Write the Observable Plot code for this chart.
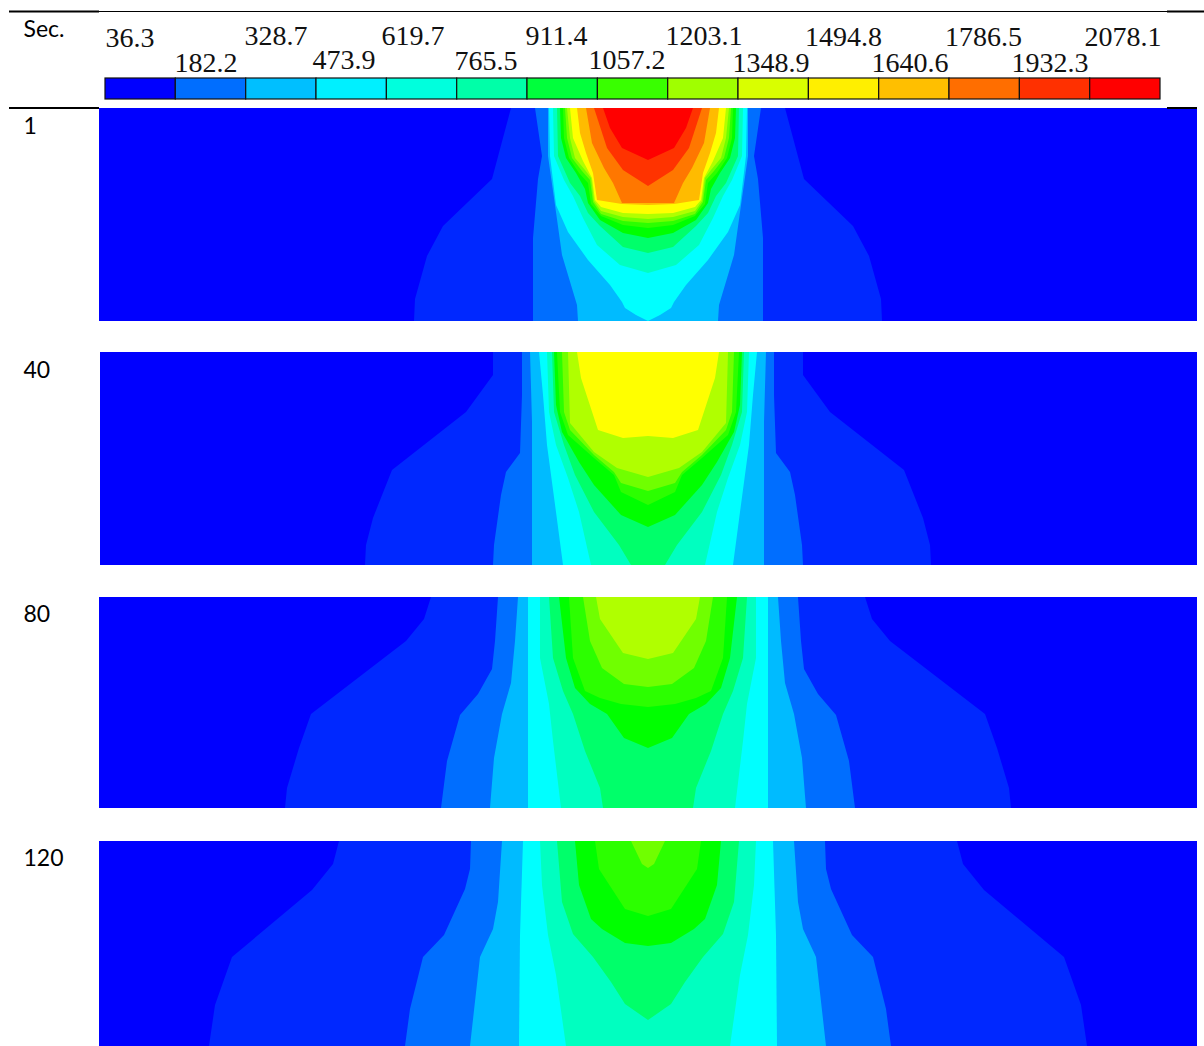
<!DOCTYPE html>
<html>
<head>
<meta charset="utf-8">
<script src="https://cdn.jsdelivr.net/npm/d3@7"></script>
<script src="https://cdn.jsdelivr.net/npm/@observablehq/plot@0.6"></script>
<style>
html,body{margin:0;padding:0;background:#fff;overflow:hidden}
svg{display:block}
</style>
</head>
<body>
<div id="chart"></div>
<script>
// Legend
const legendLabels = ["36.3","182.2","328.7","473.9","619.7","765.5","911.4","1057.2","1203.1","1348.9","1494.8","1640.6","1786.5","1932.3","2078.1"];
const legendLabelX = [105,174,244,312,381,454,525,588,665,732,804.5,871,944.5,1011,1084];
const legendLabelY = [46.5,71,44,68.5,44.5,69.5,44,68.5,44.5,71,45.5,71.5,45.5,71.5,45.5];
const legendColors = ["#0000ff","#006eff","#00bfff","#00f0ff","#00ffdd","#00ffa8","#00ff3c","#39ff00","#a0ff00","#d9ff00","#ffef00","#ffbf00","#ff6e00","#ff3000","#ff0000"];
const legendEdges = [105,175.3,245.7,316,386.4,456.7,527,597.4,667.7,738,808.4,878.7,949,1019.4,1089.7,1160];

// Contour fill colours, from the outermost band inward
const bandColors = ["#0028ff","#006eff","#00bbff","#00ffff","#00ffc0","#00ff6a","#00ff00","#2cff00","#70ff00","#b0ff00","#ffff00","#ffbb00","#ff7700","#ff3300","#ff0000"];

// Panels
const panelTimes = ["1","40","80","120"];
const panelLeft = [99,100,99,99];
const panelRight = [1197,1197,1197,1197];
const panelTop = [108,352,597,841];
const panelBottom = [321,565,808,1046];
const panelLabelY = [133.5,377.5,621.5,865.5];
const centerX = 648;

// Each contour: [half-width from centre line, depth below panel top]
const contours1 = [
  [[137,0],[156,71],[205,118],[221,148],[233,191],[234,213]],
  [[113,0],[106,48],[110,71],[115,130],[115,213]],
  [[100,0],[100,48],[93,97],[86,147],[71,197],[70,213]],
  [[99,0],[98,48],[92,97],[80,124],[60,152],[38,177],[26,194],[23,200],[12,207],[0,213]],
  [[95,0],[94,48],[84,72],[75,88],[65,110],[51,137],[28,157],[0,165]],
  [[91,0],[90,48],[78,75],[68,88],[60,105],[48,118],[25,139],[0,145]],
  [[88,0],[87,30],[82,50],[72,65],[63,81],[60,95],[48,112],[25,125],[0,130]],
  [[85,0],[84,30],[79,50],[69,65],[60,75],[57,96],[47,108],[25,117],[0,120]],
  [[83,0],[81,30],[76,50],[66,63],[58,72],[55,94],[47,106],[25,113],[0,115]],
  [[81,0],[78,30],[73,50],[63,62],[57,70],[54,93],[47,103],[25,109],[0,111]],
  [[78,0],[75,30],[65,53],[56,70],[53,92],[47,99],[25,105],[0,106]],
  [[71,0],[68,25],[62,45],[55,65],[51,92],[26,96],[0,97]],
  [[62,0],[56,35],[44,60],[35,75],[26,95],[0,95]],
  [[54,0],[41,40],[25,62],[0,78]],
  [[45,0],[38,20],[26,40],[0,52]]
];
const contours40 = [
  [[155,0],[155,23],[182,60],[256,118],[275,166],[282,193],[283,213]],
  [[126,0],[126,43],[128,101],[142,120],[147,143],[154,193],[155,213]],
  [[118,0],[116,70],[116,213]],
  [[109,0],[105,43],[101,93],[92,160],[85,213]],
  [[101,0],[99,60],[92,93],[80,126],[69,160],[57,213]],
  [[96,0],[94,60],[84,93],[73,123],[54,160],[29,193],[17,213],[0,213]],
  [[94,0],[92,53],[86,80],[69,110],[54,133],[27,163],[0,175]],
  [[91,0],[88,60],[80,83],[54,106],[34,123],[27,140],[0,153]],
  [[86,0],[84,60],[78,78],[54,103],[34,120],[27,131],[0,139]],
  [[80,0],[78,71],[54,100],[31,116],[0,125]],
  [[71,0],[67,26],[50,78],[25,86],[0,84]]
];
const contours80 = [
  [[217,0],[224,22],[242,44],[337,117],[349,151],[361,191],[363,211]],
  [[150,0],[153,44],[156,72],[170,97],[188,118],[201,164],[207,211]],
  [[130,0],[133,44],[137,86],[146,117],[154,161],[158,211]],
  [[120,0],[120,211]],
  [[108,0],[108,61],[99,107],[95,144],[87,211]],
  [[99,0],[95,61],[85,94],[75,117],[63,154],[48,191],[45,211]],
  [[89,0],[82,61],[73,91],[58,107],[41,117],[24,141],[0,151]],
  [[79,0],[75,61],[63,94],[48,101],[27,107],[0,110]],
  [[65,0],[58,44],[46,71],[24,87],[0,90]],
  [[52,0],[48,22],[25,56],[0,62]]
];
const contours120 = [
  [[309,0],[315,23],[336,49],[416,116],[433,164],[439,205]],
  [[177,0],[178,28],[183,48],[204,94],[225,116],[238,168],[243,205]],
  [[146,0],[150,61],[155,88],[168,116],[178,205]],
  [[125,0],[128,94],[129,205]],
  [[108,0],[106,44],[100,94],[92,134],[82,205]],
  [[91,0],[86,61],[75,93],[55,116],[37,141],[23,163],[0,179]],
  [[73,0],[69,44],[57,78],[46,88],[23,102],[0,105]],
  [[53,0],[49,28],[23,68],[0,75]],
  [[17,0],[6,23],[0,27]]
];

const allContours = [contours1, contours40, contours80, contours120];
const bandRows = allContours.flatMap((contours, p) =>
  contours.flatMap((contour, b) =>
    contour.map(([half, depth]) => ({
      id: p * 100 + b,
      xl: centerX - half,
      xr: centerX + half,
      y: panelTop[p] + depth,
      color: bandColors[b]
    }))
  )
);

const panels = panelTimes.map((t, i) => ({
  t, x1: panelLeft[i], x2: panelRight[i], y1: panelTop[i], y2: panelBottom[i], ly: panelLabelY[i]
}));
const legendBoxes = legendColors.map((c, i) => ({ c, x1: legendEdges[i], x2: legendEdges[i + 1] }));
const legendText = legendLabels.map((s, i) => ({ s, x: legendLabelX[i], y: legendLabelY[i] }));

const tableRules = [
  { x1: 9, x2: 99, y: 11, w: 2 },
  { x1: 99, x2: 1167, y: 11, w: 1 },
  { x1: 1167, x2: 1204, y: 11, w: 2 },
  { x1: 9, x2: 99, y: 107.5, w: 2 },
  { x1: 1167, x2: 1197, y: 107.5, w: 2 }
];

const chart = Plot.plot({
  width: 1204,
  height: 1046,
  margin: 0,
  style: { background: "#fff" },
  x: { domain: [0, 1204], range: [0, 1204], axis: null },
  y: { domain: [0, 1046], range: [0, 1046], axis: null },
  color: { type: "identity" },
  marks: [
    Plot.rect(panels, { x1: "x1", x2: "x2", y1: "y1", y2: "y2", fill: "#0000ff" }),
    Plot.area(bandRows, { x1: "xl", x2: "xr", y1: "y", y2: "y", z: "id", fill: "color" }),
    Plot.ruleY(tableRules, { x1: "x1", x2: "x2", y: "y", stroke: "#000", strokeWidth: "w" }),
    Plot.rect(legendBoxes, { x1: "x1", x2: "x2", y1: () => 78, y2: () => 99, fill: "c", stroke: "#111", strokeWidth: 1.2 }),
    Plot.text(legendText, {
      x: "x", y: "y", text: "s", textAnchor: "start", lineAnchor: "bottom",
      fontFamily: "Liberation Serif", fontSize: 28, fill: "#111"
    }),
    Plot.text(panels, {
      x: () => 23, y: "ly", text: "t", textAnchor: "start", lineAnchor: "bottom",
      fontFamily: "Lato", fontSize: 23, fill: "#000"
    }),
    Plot.text(["Sec."], {
      x: () => 23, y: () => 36.5, text: d => d, textAnchor: "start", lineAnchor: "bottom",
      fontFamily: "Lato", fontSize: 23, fill: "#000"
    })
  ]
});
document.getElementById("chart").append(chart);
</script>
</body>
</html>
